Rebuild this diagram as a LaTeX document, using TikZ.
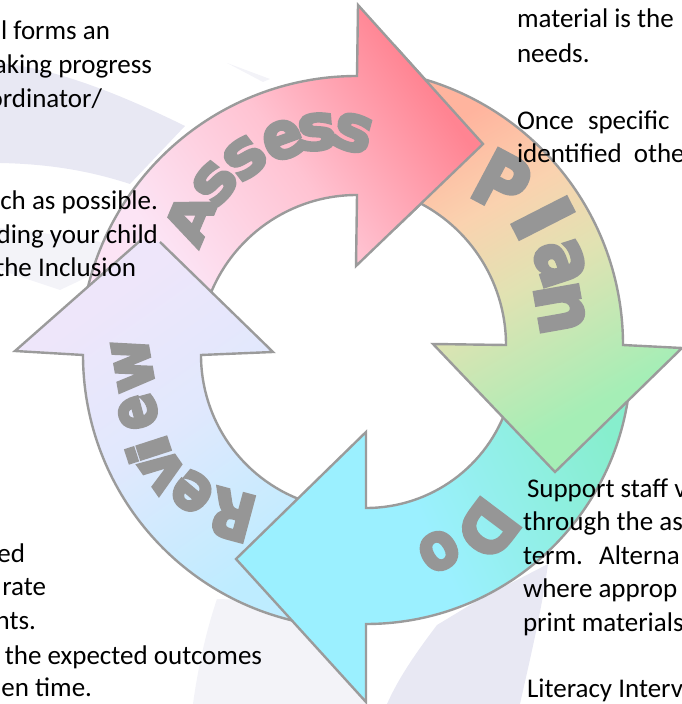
\documentclass[tikz,border=0pt]{standalone}
\usepackage{fontspec}
\setmainfont{Carlito}
\newfontfamily\wafont[BoldFont={DejaVu Sans Bold},BoldFeatures={FakeBold=5}]{DejaVu Sans}
\usetikzlibrary{calc}
\definecolor{edgegray}{RGB}{155,155,155}
\definecolor{lettergray}{RGB}{150,150,150}
\definecolor{swooshA}{RGB}{232,232,243}
\definecolor{swooshB}{RGB}{243,243,248}
\definecolor{asA}{RGB}{255,132,146}\definecolor{asM}{RGB}{255,195,210}\definecolor{asB}{RGB}{252,228,245}
\definecolor{plA}{RGB}{255,180,158}\definecolor{plN}{RGB}{250,210,175}\definecolor{plM}{RGB}{225,226,178}\definecolor{plB}{RGB}{165,238,182}
\definecolor{doA}{RGB}{135,238,205}\definecolor{doB}{RGB}{155,240,255}
\definecolor{reA}{RGB}{238,230,250}\definecolor{reM}{RGB}{225,232,253}\definecolor{reB}{RGB}{190,236,255}
\pgfdeclareverticalshading{assessshade}{100bp}{color(0bp)=(asB);color(28bp)=(asB);color(50bp)=(asM);color(72bp)=(asA);color(100bp)=(asA)}
\pgfdeclareverticalshading{planshade}{100bp}{color(0bp)=(plB);color(30bp)=(plB);color(50bp)=(plM);color(62bp)=(plN);color(75bp)=(plA);color(100bp)=(plA)}
\pgfdeclareverticalshading{doshade}{100bp}{color(0bp)=(doB);color(50bp)=(doB);color(78bp)=(doA);color(100bp)=(doA)}
\pgfdeclareverticalshading{reviewshade}{100bp}{color(0bp)=(reB);color(25bp)=(reB);color(50bp)=(reM);color(70bp)=(reA);color(100bp)=(reA)}
\newcommand{\assesspath}{%
  ($(357,351)+(160:158pt)$) arc[start angle=160,end angle=90,radius=158pt]
  -- (356,438) -- (483,560) -- (358,699) -- ($(357,351)+(90:277pt)$)
  arc[start angle=90,end angle=168,radius=277pt] -- cycle}
\newcommand{\planpath}{%
  ($(346,359)+(68:160pt)$) arc[start angle=68,end angle=0,radius=160pt]
  -- (433,360) -- (555,232) -- (682,356) -- ($(346,359)+(0:277pt)$)
  arc[start angle=0,end angle=78,radius=277pt] -- cycle}
\newcommand{\dopath}{%
  ($(366,345)+(-18:149pt)$) arc[start angle=-18,end angle=-90,radius=149pt]
  -- (366,272) -- (236,145) -- (366,2) -- ($(366,345)+(-90:265pt)$)
  arc[start angle=-90,end angle=-6,radius=265pt] -- cycle}
\newcommand{\reviewpath}{%
  (160,462) -- (273,352) -- ($(356,349)+(180:155pt)$)
  arc[start angle=180,end angle=250,radius=155pt]
  -- ($(356,349)+(258:273pt)$)
  arc[start angle=258,end angle=180,radius=273pt]
  -- (15,353) -- (141,464)}
\tikzset{
  x=1pt,y=1pt,
  rim/.style={draw=edgegray,line width=2.4pt,line join=miter},
  assessfill/.style={rim,shade,shading=assessshade,shading angle=-55},
  planfill/.style={rim,shade,shading=planshade,shading angle=30},
  dofill/.style={rim,shade,shading=doshade,shading angle=-65},
  reviewfill/.style={shade,shading=reviewshade,shading angle=35},
  body/.style={font=\fontsize{27}{27}\selectfont,text=black,inner sep=0pt,outer sep=0pt},
  leftline/.style={body,anchor=base west},
  rightline/.style={body,anchor=base east},
  wordart/.style={text=lettergray,inner sep=0pt,outer sep=0pt,font=\wafont\bfseries\fontsize{72}{72}\selectfont}
}
\newcommand{\glyph}[7]{\node[wordart,rotate=#4,xscale=#5,yscale=#6] (#1) at (#2,{704-#3}) {#7};}
\begin{document}
\begin{tikzpicture}
\useasboundingbox (0,0) rectangle (681,704);
% background swooshes
\fill[swooshA] (0,641) .. controls (50,636) and (110,615) .. (185,578) -- (130,520)
  .. controls (90,533) and (50,540) .. (0,541) -- cycle;
\fill[swooshB] (0,476) .. controls (50,470) and (100,465) .. (140,452) -- (60,414) -- (0,434) -- cycle;
\fill[swooshB] (227,641) -- (263,622) -- (270,625) -- cycle;
\fill[swooshB] (217,105) .. controls (205,70) and (197,30) .. (193,0) -- (366,0) -- (366,100) -- cycle;
\fill[swooshA] (437,79) .. controls (415,50) and (398,25) .. (387,0) -- (520,0)
  .. controls (530,45) and (542,95) .. (548,140) -- (480,105) -- cycle;
% arrows
\path[assessfill] \assesspath;
\path[reviewfill] \reviewpath;
\draw[rim] \reviewpath;
\path[dofill] \dopath;
\path[planfill] \planpath;
\begin{scope}
  \clip (395,430) rectangle (500,700);
  \path[assessfill] \assesspath;
\end{scope}
% word art letters
\glyph{aA}{190}{218}{67}{0.9}{0.76}{A}
\glyph{aB}{215}{183}{52}{0.9}{0.9}{s}
\glyph{aC}{245}{158}{38}{0.9}{0.9}{s}
\glyph{aD}{283}{140}{20}{0.82}{0.9}{e}
\glyph{aE}{317}{132}{5}{0.9}{0.88}{s}
\glyph{aF}{353}{133}{-15}{0.9}{0.88}{s}
\glyph{pA}{502}{182}{-28}{0.95}{1.05}{P}
\glyph{pB}{543}{218}{-63}{1.2}{1.1}{l}
\glyph{pC}{560}{263}{-72}{0.95}{1.1}{a}
\glyph{pD}{560}{308}{-80}{1.0}{1.1}{n}
\glyph{dA}{488}{529}{-127}{0.88}{0.95}{D}
\glyph{dB}{439}{551}{-150}{0.78}{0.9}{o}
\glyph{rA}{232}{515}{165}{0.8}{0.9}{R}
\glyph{rB}{192}{492}{140}{0.78}{0.9}{e}
\glyph{rC}{163}{470}{125}{0.82}{0.9}{v}
\glyph{rD}{148}{450}{108}{1.0}{0.78}{i}
\glyph{rE}{138}{412}{105}{0.72}{0.9}{e}
\glyph{rF}{133}{365}{100}{0.8}{0.9}{w}
% body text
\node[rightline] (t1) at (110,{704-40}) {l forms an};
\node[rightline] (t2) at (152,{704-74}) {aking progress};
\node[rightline] (t3) at (102,{704-108}) {ordinator/};
\node[rightline] (t4) at (158,{704-210}) {ch as possible.};
\node[rightline] (t5) at (158,{704-244}) {ding your child};
\node[rightline] (t6) at (136,{704-277}) {the Inclusion};
\node[rightline] (t7) at (25,{704-563}) {ed};
\node[rightline] (t8) at (46,{704-596}) {rate};
\node[rightline] (t9) at (36,{704-630}) {nts.};
\node[rightline] (t10) at (262,{704-665}) {the expected outcomes};
\node[rightline] (t11) at (92,{704-697}) {en time.};
\node[leftline] (t12) at (517,{704-28}) {material is the};
\node[leftline] (t13) at (517,{704-63}) {needs.};
\node[leftline] (t14) at (517,{704-130}) {Once\hspace{8pt} specific};
\node[leftline] (t15) at (517,{704-163}) {identified\hspace{6pt} othe};
\node[leftline] (t16) at (527,{704-498}) {Support staff v};
\node[leftline] (t17) at (523,{704-531}) {through the as};
\node[leftline] (t18) at (523,{704-565}) {term.\hspace{8pt} Alterna};
\node[leftline] (t19) at (523,{704-598}) {where approp};
\node[leftline] (t20) at (523,{704-632}) {print materials};
\node[leftline] (t21) at (527,{704-698}) {Literacy Interv};
\end{tikzpicture}
\end{document}
